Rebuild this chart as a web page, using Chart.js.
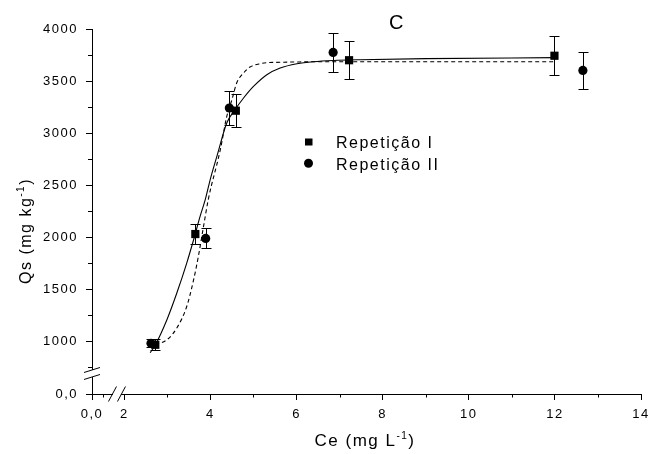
<!DOCTYPE html>
<html lang="pt">
<head>
<meta charset="UTF-8">
<title>Qs x Ce - C</title>
<script src="https://cdn.jsdelivr.net/npm/chart.js"></script>
<style>body{margin:0;background:#fff}</style>
</head>
<body>
<canvas id="myChart" width="650" height="454"></canvas>
<script>
// pontos experimentais (Ce em mg/L, Qs em mg/kg, desvio)
const ceRep1 = [2.72, 3.65, 4.59, 7.22, 11.99];
const qsRep1 = [966, 2030, 3215, 3700, 3743];
const errRep1 = [55, 97, 160, 184, 187];

const ceRep2 = [2.62, 3.89, 4.44, 6.85, 12.65];
const qsRep2 = [980, 1988, 3241, 3775, 3602];
const errRep2 = [40, 97, 163, 185, 181];

// curvas ajustadas
const fitRep1Ce = [2.60, 2.72, 2.99, 3.22, 3.45, 3.61, 3.76, 3.88, 4.00, 4.15, 4.38, 4.57, 4.77, 5.00, 5.31, 5.62, 6.01, 6.39, 6.86, 7.48, 9.00, 11.99];
const fitRep1Qs = [890, 965, 1207, 1463, 1751, 1975, 2199, 2360, 2560, 2776, 3097, 3224, 3337, 3448, 3561, 3625, 3666, 3686, 3698, 3705, 3715, 3725];

const fitRep2Ce = [2.72, 2.99, 3.22, 3.45, 3.61, 3.72, 3.84, 3.95, 4.23, 4.38, 4.50, 4.61, 4.77, 4.92, 5.16, 5.46, 7.48, 11.96];
const fitRep2Qs = [966, 1014, 1127, 1334, 1591, 1815, 2103, 2360, 2840, 3160, 3321, 3481, 3577, 3635, 3667, 3679, 3686, 3686];

// eixos quebrados: onde fica o "0,0" e onde fica a quebra
const xZero = 1.25;
const yZero = 493;
const xBreak = 1.83;
const yBreak = 690;
const xTicks = [2, 4, 6, 8, 10, 12, 14];
const xMinor = [1.5, 3, 5, 7, 9, 11, 13];
const yTicks = [1000, 1500, 2000, 2500, 3000, 3500, 4000];
const yMinor = [750, 1250, 1750, 2250, 2750, 3250, 3750];

const FONT = '"Liberation Sans", Arial, sans-serif';
const SPACING = '1.5px';

function drawSupText(ctx, parts, cx, baseY) {
    // parts: [texto, tamanho, elevação]
    let total = 0;
    parts.forEach(p => { ctx.font = p[1] + 'px ' + FONT; total += ctx.measureText(p[0]).width; });
    let cur = cx - total / 2;
    ctx.textAlign = 'left';
    ctx.textBaseline = 'alphabetic';
    parts.forEach(p => {
        ctx.font = p[1] + 'px ' + FONT;
        ctx.fillText(p[0], cur, baseY - p[2]);
        cur += ctx.measureText(p[0]).width;
    });
}

const extrasPlugin = {
    id: 'extras',
    beforeLayout(chart) { chart.ctx.letterSpacing = SPACING; },
    beforeDraw(chart) { chart.ctx.letterSpacing = SPACING; },
    beforeDatasetsDraw(chart) {
        // barras de erro
        const { ctx, scales: { x, y } } = chart;
        ctx.save();
        ctx.strokeStyle = '#000';
        ctx.lineWidth = 1;
        [[ceRep1, qsRep1, errRep1], [ceRep2, qsRep2, errRep2]].forEach(([xs, ys, es]) => {
            xs.forEach((v, i) => {
                const px = Math.round(x.getPixelForValue(v)) + 0.5;
                const top = Math.round(y.getPixelForValue(ys[i] + es[i])) + 0.5;
                const bot = Math.round(y.getPixelForValue(ys[i] - es[i])) + 0.5;
                ctx.beginPath();
                ctx.moveTo(px, top); ctx.lineTo(px, bot);
                ctx.moveTo(px - 5, top); ctx.lineTo(px + 5, top);
                ctx.moveTo(px - 5, bot); ctx.lineTo(px + 5, bot);
                ctx.stroke();
            });
        });
        ctx.restore();
    },
    afterDraw(chart) {
        const { ctx, chartArea: a, scales: { x, y } } = chart;
        ctx.save();
        ctx.strokeStyle = '#000';
        ctx.fillStyle = '#000';
        ctx.lineWidth = 1;

        // ticks menores
        ctx.beginPath();
        xMinor.forEach(v => {
            const px = Math.round(x.getPixelForValue(v)) + 0.5;
            ctx.moveTo(px, a.bottom); ctx.lineTo(px, a.bottom + 3.5);
        });
        yMinor.forEach(v => {
            const py = Math.round(y.getPixelForValue(v)) + 0.5;
            ctx.moveTo(a.left, py); ctx.lineTo(a.left - 4, py);
        });
        ctx.stroke();

        // quebras dos eixos
        const bx = x.getPixelForValue(xBreak);
        const by = y.getPixelForValue(yBreak);
        ctx.fillStyle = '#fff';
        ctx.fillRect(bx - 4, a.bottom - 2, 8, 4);
        ctx.fillRect(a.left - 2, by - 3.5, 4, 7);
        ctx.beginPath();
        [-4.5, 4.5].forEach(d => {
            ctx.moveTo(bx + d - 4, a.bottom + 7.5);
            ctx.lineTo(bx + d + 4, a.bottom - 7.5);
        });
        [-3.5, 3.5].forEach(d => {
            ctx.moveTo(a.left - 8, by + d + 2.5);
            ctx.lineTo(a.left + 8, by + d - 2.5);
        });
        ctx.stroke();

        ctx.fillStyle = '#000';
        // título do painel
        ctx.font = '20px ' + FONT;
        ctx.textAlign = 'center';
        ctx.textBaseline = 'alphabetic';
        ctx.fillText('C', 397, 29);

        // legenda
        ctx.fillRect(305, 138.5, 7.5, 7);
        ctx.beginPath();
        ctx.arc(308.5, 163.3, 4.5, 0, Math.PI * 2);
        ctx.fill();
        ctx.font = '16px ' + FONT;
        ctx.textAlign = 'left';
        ctx.fillText('Repetição I', 336, 148);
        ctx.fillText('Repetição II', 336, 169.5);

        // títulos dos eixos
        drawSupText(ctx, [['Ce (mg L', 17, 0], ['-1', 10, 7], [')', 17, 0]], 365, 446);
        ctx.translate(31, 231);
        ctx.rotate(-Math.PI / 2);
        drawSupText(ctx, [['Qs (mg kg', 16, 0], ['-1', 10, 7], [')', 16, 0]], 0, 0);
        ctx.restore();
    }
};

const toPoints = (xs, ys) => xs.map((v, i) => ({ x: v, y: ys[i] }));

const data = {
    datasets: [
        {
            label: 'Repetição I',
            data: toPoints(ceRep1, qsRep1),
            pointStyle: 'rect',
            pointRadius: 5.8,
            backgroundColor: '#000',
            borderColor: '#000',
            borderWidth: 0,
            order: 1
        },
        {
            label: 'Repetição II',
            data: toPoints(ceRep2, qsRep2),
            pointStyle: 'circle',
            pointRadius: 4.6,
            backgroundColor: '#000',
            borderColor: '#000',
            borderWidth: 0,
            order: 2
        },
        {
            label: 'Ajuste I',
            data: toPoints(fitRep1Ce, fitRep1Qs),
            showLine: true,
            pointRadius: 0,
            borderColor: '#000',
            borderWidth: 1.1,
            cubicInterpolationMode: 'monotone',
            order: 3
        },
        {
            label: 'Ajuste II',
            data: toPoints(fitRep2Ce, fitRep2Qs),
            showLine: true,
            pointRadius: 0,
            borderColor: '#000',
            borderWidth: 1.1,
            borderDash: [4, 3],
            cubicInterpolationMode: 'monotone',
            order: 4
        }
    ]
};

const config = {
    type: 'scatter',
    data: data,
    options: {
        responsive: false,
        animation: false,
        layout: { padding: { top: 29, right: 9, left: 0, bottom: 0 } },
        plugins: {
            legend: { display: false },
            tooltip: { enabled: false }
        },
        scales: {
            x: {
                type: 'linear',
                min: xZero,
                max: 14,
                afterBuildTicks: s => { s.ticks = [xZero, ...xTicks].map(v => ({ value: v })); },
                afterFit: s => {
                    s.height = 60;
                    s.paddingLeft = 0;
                    s.paddingRight = 0;
                },
                ticks: {
                    callback: v => v === xZero ? '0,0' : String(v),
                    color: '#000',
                    font: { family: FONT, size: 13 },
                    padding: 7,
                    maxRotation: 0,
                    autoSkip: false
                },
                grid: { drawOnChartArea: false, drawTicks: true, tickLength: 6, color: '#000' },
                border: { color: '#000', width: 1 }
            },
            y: {
                type: 'linear',
                min: yZero,
                max: 4000,
                afterBuildTicks: s => { s.ticks = [yZero, ...yTicks].map(v => ({ value: v })); },
                afterFit: s => {
                    s.width = 92;
                    s.paddingTop = 0;
                    s.paddingBottom = 0;
                },
                ticks: {
                    callback: v => v === yZero ? '0,0' : String(v),
                    color: '#000',
                    font: { family: FONT, size: 13 },
                    padding: 8,
                    autoSkip: false
                },
                grid: { drawOnChartArea: false, drawTicks: true, tickLength: 6, color: '#000' },
                border: { color: '#000', width: 1 }
            }
        }
    },
    plugins: [extrasPlugin]
};

new Chart(document.getElementById('myChart').getContext('2d'), config);
</script>
</body>
</html>
